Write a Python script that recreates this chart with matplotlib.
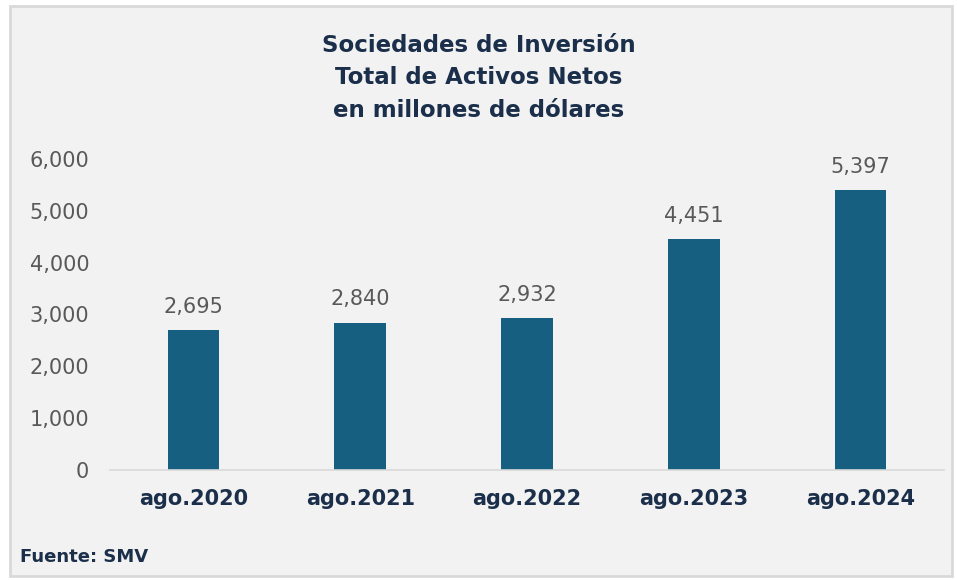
import matplotlib.pyplot as plt
from matplotlib.patches import Rectangle

# Datos
categorias = ["ago.2020", "ago.2021", "ago.2022", "ago.2023", "ago.2024"]
valores = [2695, 2840, 2932, 4451, 5397]
yticks = [0, 1000, 2000, 3000, 4000, 5000, 6000]

navy = "#1b2f4b"
bar_color = "#175f80"
gris = "#595959"

fig = plt.figure(figsize=(9.57, 5.8), dpi=100)
fig.patch.set_facecolor("white")

# Marco del gráfico
W, H = 957, 580
fig.patches.append(Rectangle((10 / W, 4 / H), 942 / W, 570 / H, transform=fig.transFigure,
                             facecolor="#f2f2f2", edgecolor="#d9d9d9", linewidth=2, zorder=-1))

ax = fig.add_axes([110 / W, 110 / H, 834 / W, 311 / H])
ax.set_facecolor("none")

x = range(len(categorias))
ax.bar(x, valores, width=0.31, color=bar_color)
for xi, v in zip(x, valores):
    ax.text(xi, v + 260, f"{v:,}", ha="center", va="bottom", fontsize=15, color=gris)

ax.set_xlim(-0.5, len(categorias) - 0.5)
ax.set_ylim(0, 6000)
ax.set_yticks(yticks)
ax.set_yticklabels([f"{t:,}" for t in yticks], fontsize=15, color=gris)
ax.set_xticks(list(x))
ax.set_xticklabels(categorias, fontsize=15, fontweight="bold", color=navy)
ax.tick_params(axis="both", length=0)
ax.tick_params(axis="y", pad=15)
ax.tick_params(axis="x", pad=14)

for s in ["top", "right", "left"]:
    ax.spines[s].set_visible(False)
ax.spines["bottom"].set_color("#d9d9d9")
ax.spines["bottom"].set_linewidth(1.2)

fig.text(0.5, 1 - 78 / H, "Sociedades de Inversión\nTotal de Activos Netos\nen millones de dólares",
         ha="center", va="center", fontsize=16.5, fontweight="bold", color=navy, linespacing=1.55)
fig.text(20 / W, 1 - 557 / H, "Fuente: SMV", ha="left", va="center", fontsize=13,
         fontweight="bold", color=navy)

fig.savefig("out.png", dpi=100)
